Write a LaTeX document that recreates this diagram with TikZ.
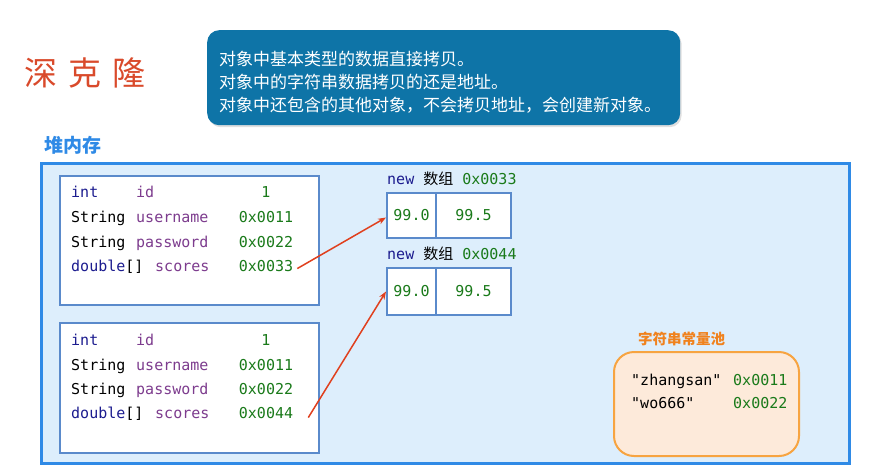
\documentclass[tikz,border=0pt]{standalone}
\usepackage{fontspec}
\setmonofont{DejaVu Sans Mono}
\newfontfamily\cjk{Noto Sans CJK SC}
\usetikzlibrary{arrows.meta,shadows}
\definecolor{titlered}{HTML}{D94A2B}
\definecolor{callfill}{HTML}{0E74A7}
\definecolor{heapfill}{HTML}{DDEEFC}
\definecolor{heapline}{HTML}{2F8AE6}
\definecolor{boxline}{HTML}{5A8ACB}
\definecolor{kw}{HTML}{1C1C8F}
\definecolor{nm}{HTML}{7D3C8E}
\definecolor{val}{HTML}{1A7A1A}
\definecolor{poolor}{HTML}{F0821E}
\definecolor{poolfill}{HTML}{FDEADA}
\definecolor{poolline}{HTML}{F7A441}
\definecolor{arrred}{HTML}{E0401E}
\tikzset{
  code/.style={inner sep=0pt,anchor=base west,font=\ttfamily\fontsize{15}{15}\selectfont},
  valtxt/.style={inner sep=0pt,anchor=base,font=\ttfamily\fontsize{15}{15}\selectfont,text=val},
  objbox/.style={draw=boxline,line width=2pt,fill=white},
  cell/.style={draw=boxline,line width=2pt,fill=white,minimum width=49pt,minimum height=45pt,inner sep=0pt,font=\ttfamily\fontsize{15}{15}\selectfont,text=val},
  ref/.style={draw=arrred,line width=1.5pt,-{Stealth[length=8pt,width=6pt]}},
}
\begin{document}
\begin{tikzpicture}[x=1pt,y=-1pt]
\useasboundingbox (0,0) rectangle (878,466);
% title
\node[inner sep=0pt,anchor=west,text=titlered,font=\cjk\fontsize{33}{33}\selectfont] (title) at (24,73) {深\hspace{11pt}克\hspace{11pt}隆};
% callout
\node[draw=none,fill=callfill,rounded corners=12pt,minimum width=473pt,minimum height=95pt,
  drop shadow={opacity=0.25,shadow xshift=1.5pt,shadow yshift=-2pt},anchor=north west,
  inner sep=0pt] (call) at (207,30) {};
\node[anchor=west,inner sep=0pt,text=white,align=left,font=\cjk\fontsize{17}{23}\selectfont] (calltxt) at (219,82)
  {对象中基本类型的数据直接拷贝。\\对象中的字符串数据拷贝的还是地址。\\对象中还包含的其他对象，不会拷贝地址，会创建新对象。};
% heap
\node[anchor=west,inner sep=0pt,text=heapline,font=\cjk\bfseries\fontsize{19}{19}\selectfont] (heaplbl) at (44,145) {堆内存};
\draw[draw=heapline,line width=3pt,fill=heapfill] (41,163) rectangle (849,463);
% object 1
\draw[objbox] (60,176) rectangle (319,305);
\node[code,text=kw] (t11) at (71,197) {int};
\node[code,text=nm] (n11) at (136,197) {id};
\node[valtxt] (v11) at (266,197) {1};
\node[code] (t12) at (71,222) {String};
\node[code,text=nm] (n12) at (136,222) {username};
\node[valtxt] (v12) at (266,222) {0x0011};
\node[code] (t13) at (71,247) {String};
\node[code,text=nm] (n13) at (136,247) {password};
\node[valtxt] (v13) at (266,247) {0x0022};
\node[code] (t14) at (71,271) {\textcolor{kw}{double}[]};
\node[code,text=nm] (n14) at (155,271) {scores};
\node[valtxt] (v14) at (266,271) {0x0033};
% object 2
\draw[objbox] (60,323) rectangle (319,453);
\node[code,text=kw] (t21) at (71,345) {int};
\node[code,text=nm] (n21) at (136,345) {id};
\node[valtxt] (v21) at (266,345) {1};
\node[code] (t22) at (71,370) {String};
\node[code,text=nm] (n22) at (136,370) {username};
\node[valtxt] (v22) at (266,370) {0x0011};
\node[code] (t23) at (71,394) {String};
\node[code,text=nm] (n23) at (136,394) {password};
\node[valtxt] (v23) at (266,394) {0x0022};
\node[code] (t24) at (71,418) {\textcolor{kw}{double}[]};
\node[code,text=nm] (n24) at (155,418) {scores};
\node[valtxt] (v24) at (266,418) {0x0044};
% arrays
\node[code] (al1) at (387,184) {\textcolor{kw}{new} {\cjk 数组} \textcolor{val}{0x0033}};
\node[cell,anchor=north west] (a1l) at (386,192) {99.0};
\node[cell,anchor=north west,minimum width=75pt] (a1r) at (435,192) {99.5};
\node[code] (al2) at (387,259) {\textcolor{kw}{new} {\cjk 数组} \textcolor{val}{0x0044}};
\node[cell,anchor=north west,minimum height=47pt] (a2l) at (386,267) {99.0};
\node[cell,anchor=north west,minimum width=75pt,minimum height=47pt] (a2r) at (435,267) {99.5};
% arrows
\draw[ref] ([xshift=4pt,yshift=-3pt]v14.east) -- ([yshift=-2pt]a1l.west);
\draw[ref] ([xshift=15pt,yshift=-5pt]v24.east) -- (a2l.west);
% string pool
\node[anchor=west,inner sep=0pt,text=poolor,font=\cjk\bfseries\fontsize{14.5}{14.5}\selectfont] (poollbl) at (638,339) {字符串常量池};
\draw[draw=poolline,line width=2pt,fill=poolfill,rounded corners=20pt] (614,352) rectangle (799,456);
\node[code] (s1) at (631,385) {"zhangsan"};
\node[code,text=val] (s1v) at (733,385) {0x0011};
\node[code] (s2) at (631,408) {"wo666"};
\node[code,text=val] (s2v) at (733,408) {0x0022};
\end{tikzpicture}
\end{document}
